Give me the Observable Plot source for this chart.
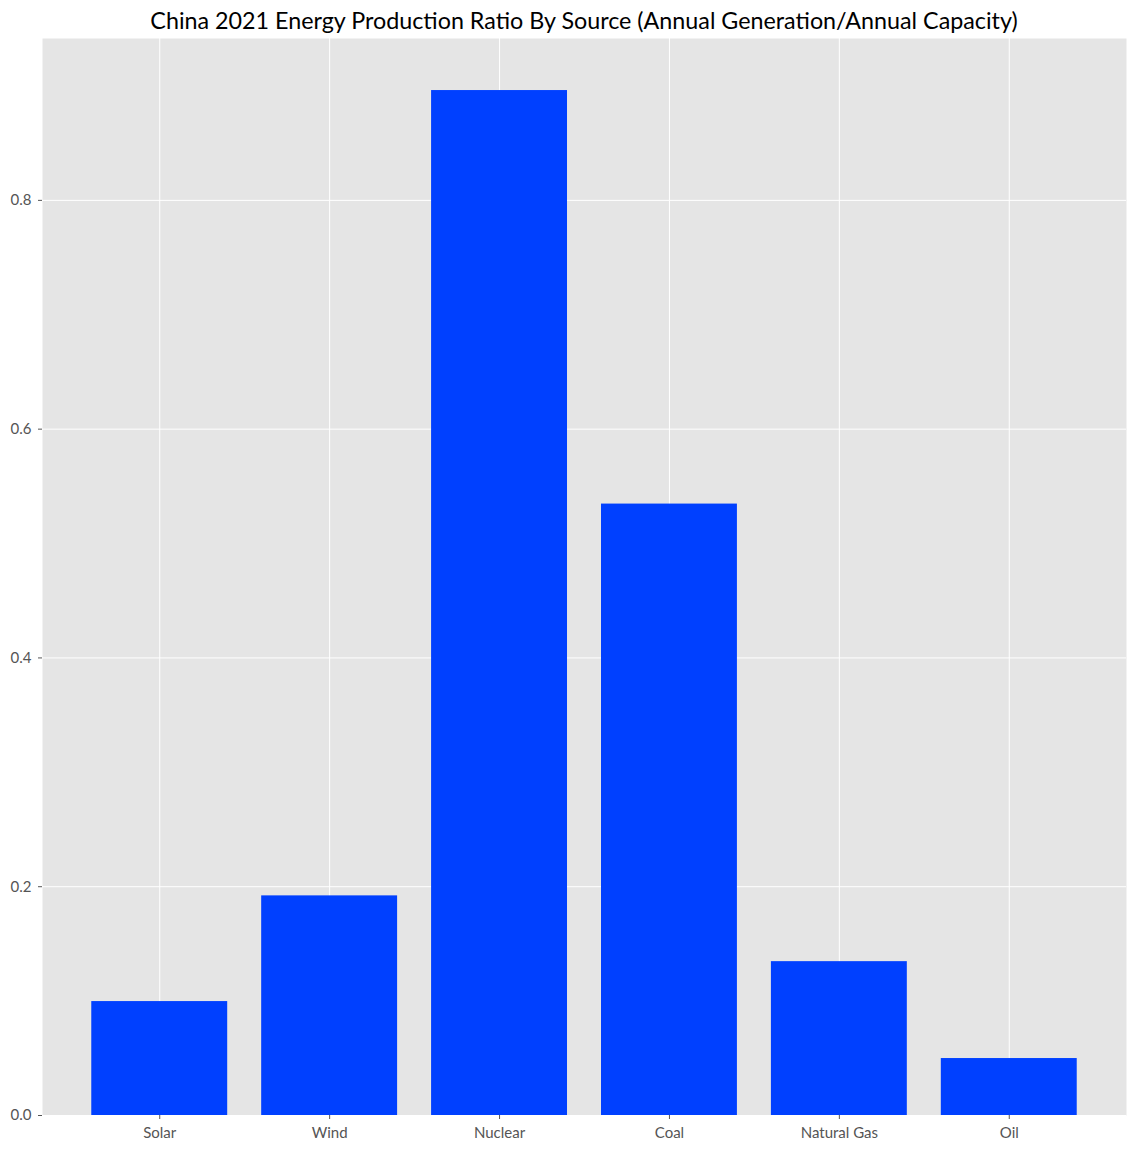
<!DOCTYPE html>
<html>
<head>
<meta charset="utf-8">
<script src="https://cdn.jsdelivr.net/npm/d3@7"></script>
<script src="https://cdn.jsdelivr.net/npm/@observablehq/plot@0.6"></script>
<style>
  body { margin: 0; background: #fff; font-family: Lato, "Noto Sans", sans-serif; }
  #title { box-sizing: border-box; width: 1136px; height: 30px; padding-left: 42px; padding-right: 10px;
           text-align: center; font-size: 23.3px; line-height: 23px; padding-top: 9px; color: #000; }
</style>
</head>
<body>
<div id="title">China 2021 Energy Production Ratio By Source (Annual Generation/Annual Capacity)</div>
<div id="chart"></div>
<script>
const categories = ["Solar", "Wind", "Nuclear", "Coal", "Natural Gas", "Oil"];
const ratios = [0.0996, 0.192, 0.896, 0.5345, 0.1345, 0.0498];
const yTicks = [0, 0.2, 0.4, 0.6, 0.8];

const data = categories.map((c, i) => ({source: c, ratio: ratios[i]}));

const chart = Plot.plot({
  width: 1136,
  height: 1121,
  marginTop: 8,
  marginBottom: 36,
  marginLeft: 42,
  marginRight: 10,
  style: {fontFamily: "Lato, 'Noto Sans', sans-serif", fontSize: "15px", color: "#555", background: "#fff"},
  x: {domain: categories, paddingInner: 0.2, paddingOuter: 0.29, round: false, label: null},
  y: {domain: [0, 0.9415], label: null},
  marks: [
    Plot.frame({fill: "#e5e5e5", stroke: null}),
    Plot.gridX({stroke: "#fff", strokeOpacity: 1, strokeWidth: 1}),
    Plot.gridY(yTicks, {stroke: "#fff", strokeOpacity: 1, strokeWidth: 1}),
    Plot.barY(data, {x: "source", y: "ratio", fill: "#0040ff"}),
    Plot.axisX({tickSize: 4, tickPadding: 8, stroke: "#555", fill: "#555", fontSize: 15, label: null}),
    Plot.axisY(yTicks, {tickSize: 4, tickPadding: 7, stroke: "#555", fill: "#555", fontSize: 15, tickFormat: d3.format(".1f"), label: null})
  ]
});
document.getElementById("chart").appendChild(chart);
</script>
</body>
</html>
